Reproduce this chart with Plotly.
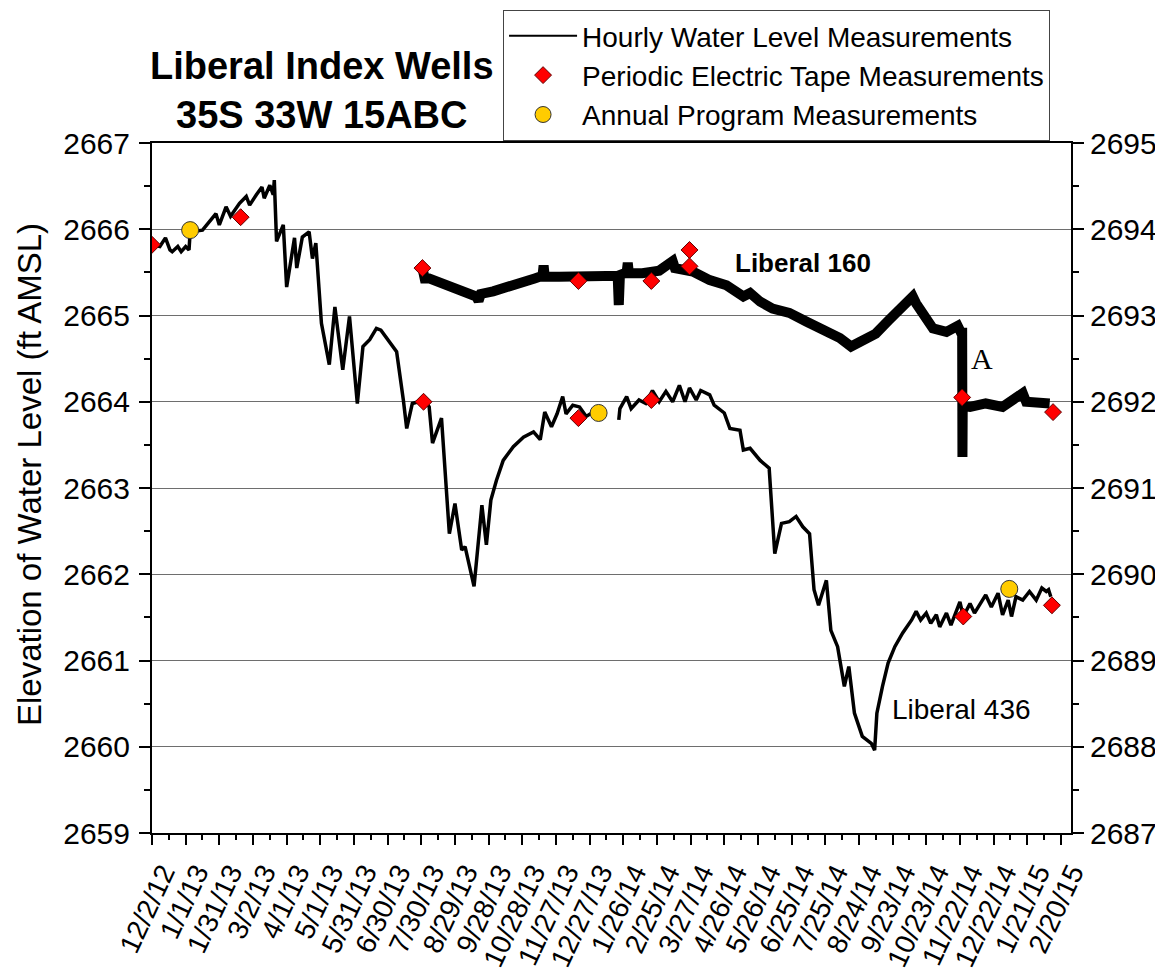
import plotly.graph_objects as go
import pandas as pd

# ---------------- data ----------------
TITLE_LINES = ["Liberal Index Wells", "35S 33W 15ABC"]
Y_TITLE = "Elevation of Water Level (ft AMSL)"
LEGEND_NAMES = ["Hourly Water Level Measurements",
                "Periodic Electric Tape Measurements",
                "Annual Program Measurements"]

TICK_DATES = ["2012-12-02", "2013-01-01", "2013-01-31", "2013-03-02", "2013-04-01",
              "2013-05-01", "2013-05-31", "2013-06-30", "2013-07-30", "2013-08-29",
              "2013-09-28", "2013-10-28", "2013-11-27", "2013-12-27", "2014-01-26",
              "2014-02-25", "2014-03-27", "2014-04-26", "2014-05-26", "2014-06-25",
              "2014-07-25", "2014-08-24", "2014-09-23", "2014-10-23", "2014-11-22",
              "2014-12-22", "2015-01-21", "2015-02-20"]
TICK_LABELS = ["12/2/12", "1/1/13", "1/31/13", "3/2/13", "4/1/13", "5/1/13", "5/31/13",
               "6/30/13", "7/30/13", "8/29/13", "9/28/13", "10/28/13", "11/27/13",
               "12/27/13", "1/26/14", "2/25/14", "3/27/14", "4/26/14", "5/26/14",
               "6/25/14", "7/25/14", "8/24/14", "9/23/14", "10/23/14", "11/22/14",
               "12/22/14", "1/21/15", "2/20/15"]

# Liberal 436 hourly record (left axis)
L436_DATES = ["2012-12-02", "2012-12-09", "2012-12-14", "2012-12-18", "2012-12-20",
              "2012-12-25", "2012-12-28", "2013-01-01", "2013-01-04", "2013-01-05",
              "2013-01-16", "2013-01-28", "2013-01-31", "2013-02-06", "2013-02-10",
              "2013-02-18", "2013-02-24", "2013-02-27", "2013-03-05", "2013-03-10",
              "2013-03-12", "2013-03-17", "2013-03-20", "2013-03-21", "2013-03-23",
              "2013-03-29", "2013-04-01", "2013-04-08", "2013-04-10", "2013-04-15",
              "2013-04-21", "2013-04-24", "2013-04-27", "2013-05-02", "2013-05-09",
              "2013-05-14", "2013-05-21", "2013-05-27", "2013-06-03", "2013-06-08",
              "2013-06-14", "2013-06-20", "2013-06-24", "2013-07-02", "2013-07-08",
              "2013-07-14", "2013-07-17", "2013-07-22", "2013-08-02", "2013-08-06",
              "2013-08-09", "2013-08-17", "2013-08-24", "2013-08-29", "2013-09-04",
              "2013-09-07", "2013-09-15", "2013-09-22", "2013-09-26", "2013-09-30",
              "2013-10-05", "2013-10-11", "2013-10-20", "2013-10-29", "2013-11-07",
              "2013-11-13", "2013-11-17", "2013-11-23", "2013-11-28", "2013-12-03",
              "2013-12-06", "2013-12-12", "2013-12-18", "2013-12-24", "2013-12-30",
              "2014-01-10",
              "2014-01-22", "2014-01-23", "2014-01-29", "2014-02-02", "2014-02-09",
              "2014-02-15", "2014-02-21", "2014-02-27", "2014-03-05", "2014-03-11",
              "2014-03-17", "2014-03-22", "2014-03-26", "2014-04-01", "2014-04-05",
              "2014-04-13", "2014-04-17", "2014-04-26", "2014-05-01", "2014-05-10",
              "2014-05-13", "2014-05-19", "2014-05-28", "2014-06-05", "2014-06-10",
              "2014-06-16", "2014-06-23", "2014-06-29", "2014-07-05", "2014-07-11",
              "2014-07-15", "2014-07-19", "2014-07-26", "2014-07-30", "2014-08-05",
              "2014-08-11", "2014-08-15", "2014-08-20", "2014-08-27", "2014-09-04",
              "2014-09-07", "2014-09-09", "2014-09-14", "2014-09-19", "2014-09-25",
              "2014-10-02", "2014-10-10", "2014-10-14", "2014-10-18", "2014-10-23",
              "2014-10-27", "2014-11-01", "2014-11-04", "2014-11-10", "2014-11-14",
              "2014-11-22", "2014-11-25", "2014-12-01", "2014-12-05", "2014-12-15",
              "2014-12-20", "2014-12-26", "2014-12-30", "2015-01-04", "2015-01-07",
              "2015-01-11", "2015-01-17", "2015-01-23", "2015-01-29", "2015-02-03",
              "2015-02-07", "2015-02-09", "2015-02-11"]
L436_LEVELS = [2665.82, 2665.80, 2665.90, 2665.76, 2665.74,
               2665.80, 2665.74, 2665.80, 2665.76, 2665.97,
               2665.99, 2666.18, 2666.05, 2666.26, 2666.15,
               2666.30, 2666.38, 2666.28, 2666.40, 2666.49,
               2666.36, 2666.51, 2666.40, 2666.57, 2665.86,
               2666.05, 2665.33, 2665.90, 2665.55, 2665.91,
               2665.97, 2665.66, 2665.84, 2664.91, 2664.43,
               2665.10, 2664.37, 2664.99, 2663.98, 2664.64,
               2664.72, 2664.85, 2664.83, 2664.68, 2664.58,
               2664.02, 2663.69, 2663.98, 2664.02, 2663.94,
               2663.52, 2663.81, 2662.47, 2662.82, 2662.28,
               2662.32, 2661.86, 2662.80, 2662.34, 2662.86,
               2663.09, 2663.32, 2663.48, 2663.59, 2663.65,
               2663.56, 2663.88, 2663.71, 2663.86, 2664.06,
               2663.86, 2663.96, 2663.94, 2663.83, 2663.88,
               None,
               2663.79, 2663.92, 2664.06, 2663.92, 2664.02,
               2663.98, 2664.13, 2664.00, 2664.12, 2664.00,
               2664.19, 2664.00, 2664.16, 2664.02, 2664.13,
               2664.08, 2663.96, 2663.87, 2663.69, 2663.67,
               2663.44, 2663.46, 2663.32, 2663.23, 2662.24,
               2662.59, 2662.61, 2662.67, 2662.55, 2662.47,
               2661.82, 2661.64, 2661.93, 2661.35, 2661.16,
               2660.70, 2660.93, 2660.39, 2660.12, 2660.04,
               2659.96, 2660.39, 2660.70, 2660.97, 2661.16,
               2661.32, 2661.47, 2661.57, 2661.47, 2661.55,
               2661.43, 2661.53, 2661.39, 2661.55, 2661.41,
               2661.68, 2661.51, 2661.66, 2661.55, 2661.76,
               2661.62, 2661.78, 2661.53, 2661.70, 2661.51,
               2661.74, 2661.70, 2661.80, 2661.70, 2661.84,
               2661.80, 2661.82, 2661.74]

# Liberal 160 hourly record (right axis)
L160_DATES = ["2013-07-31", "2013-08-02", "2013-08-06", "2013-08-18", "2013-09-02",
              "2013-09-17", "2013-09-19", "2013-09-21", "2013-10-02", "2013-10-17",
              "2013-10-31", "2013-11-08", "2013-11-15", "2013-11-16", "2013-11-17",
              "2013-11-30", "2013-12-15", "2013-12-30", "2014-01-14", "2014-01-21",
              "2014-01-22", "2014-01-23", "2014-01-29", "2014-01-30", "2014-01-31",
              "2014-02-12", "2014-02-27", "2014-03-11", "2014-03-13", "2014-03-29",
              "2014-04-13", "2014-04-28", "2014-05-13", "2014-05-19", "2014-05-28",
              "2014-06-08", "2014-06-23", "2014-07-08", "2014-07-23", "2014-08-07",
              "2014-08-17", "2014-08-27", "2014-09-08", "2014-09-20", "2014-10-02",
              "2014-10-11", "2014-10-14", "2014-10-20", "2014-10-29", "2014-11-10",
              "2014-11-20", "2014-11-23", "2014-11-24 00:00", "2014-11-24 06:00",
              "2014-11-24 12:00", "2014-12-01", "2014-12-15", "2014-12-30",
              "2015-01-17", "2015-01-20", "2015-02-01", "2015-02-10"]
L160_LEVELS = [2693.55, 2693.43, 2693.43, 2693.37, 2693.30,
               2693.22, 2693.17, 2693.25, 2693.28, 2693.33,
               2693.40, 2693.43, 2693.46, 2693.58, 2693.45,
               2693.45, 2693.45, 2693.47, 2693.45, 2693.46,
               2693.12, 2693.47, 2693.50, 2693.61, 2693.49,
               2693.49, 2693.52, 2693.63, 2693.55, 2693.51,
               2693.41, 2693.35, 2693.22, 2693.26, 2693.16,
               2693.08, 2693.03, 2692.93, 2692.83, 2692.74,
               2692.64, 2692.72, 2692.79, 2692.95, 2693.12,
               2693.22, 2693.14, 2693.04, 2692.85, 2692.81,
               2692.88, 2692.80, 2692.80, 2691.36,
               2691.95, 2691.94, 2691.98, 2691.94,
               2692.10, 2692.00, 2692.00, 2691.98]

# Periodic electric tape measurements
TAPE436_DATES = ["2012-12-02", "2013-02-19", "2013-08-01", "2013-12-17", "2014-02-20",
                 "2014-11-25", "2015-02-12"]
TAPE436_LEVELS = [2665.82, 2666.14, 2664.00, 2663.81, 2664.02, 2661.51, 2661.64]
TAPE160_DATES = ["2013-07-31", "2013-12-17", "2014-02-20", "2014-03-26", "2014-03-26",
                 "2014-11-24", "2015-02-13"]
TAPE160_LEVELS = [2693.55, 2693.40, 2693.40, 2693.76, 2693.57, 2692.05, 2691.88]

# Annual program measurements
ANNUAL_DATES = ["2013-01-05", "2014-01-04", "2015-01-05"]
ANNUAL_LEVELS = [2665.99, 2663.87, 2661.83]

# ---------------- figure ----------------
FONT = "Liberation Sans, Arial, sans-serif"
fig = go.Figure()

fig.add_trace(go.Scatter(x=L436_DATES, y=L436_LEVELS, mode="lines",
                         line=dict(color="black", width=3.5), connectgaps=False,
                         showlegend=False, yaxis="y"))
fig.add_trace(go.Scatter(x=L160_DATES, y=L160_LEVELS, mode="lines",
                         line=dict(color="black", width=10), showlegend=False,
                         yaxis="y2"))

diamond = dict(symbol="diamond", color="#FF0000", size=13,
               line=dict(color="#600000", width=1))
circle = dict(symbol="circle", color="#FFCC00", size=17,
              line=dict(color="#333333", width=1))

fig.add_trace(go.Scatter(x=TAPE436_DATES, y=TAPE436_LEVELS, mode="markers",
                         marker=diamond, showlegend=False, yaxis="y"))
fig.add_trace(go.Scatter(x=TAPE160_DATES, y=TAPE160_LEVELS, mode="markers",
                         marker=diamond, showlegend=False, yaxis="y2"))
fig.add_trace(go.Scatter(x=ANNUAL_DATES, y=ANNUAL_LEVELS, mode="markers",
                         marker=circle, showlegend=False, yaxis="y"))

# legend entries
fig.add_trace(go.Scatter(x=[None], y=[None], mode="lines", name=LEGEND_NAMES[0],
                         line=dict(color="black", width=2)))
fig.add_trace(go.Scatter(x=[None], y=[None], mode="markers", name=LEGEND_NAMES[1],
                         marker=diamond))
fig.add_trace(go.Scatter(x=[None], y=[None], mode="markers", name=LEGEND_NAMES[2],
                         marker=circle))

minor_vals = [d.strftime("%Y-%m-%d") for d in
              (pd.to_datetime(TICK_DATES) + pd.Timedelta(days=15))]

ytick_font = dict(family=FONT, size=30, color="black")
xtick_font = dict(family=FONT, size=28, color="black")

FIG_W, FIG_H = 1155, 964   # the page body adds an 8px margin around the figure

fig.update_layout(
    width=FIG_W, height=FIG_H, autosize=False,
    margin=dict(l=144, r=92, t=135, b=139, autoexpand=False),
    paper_bgcolor="white", plot_bgcolor="white",
    font=dict(family=FONT, color="black"),
    xaxis=dict(type="date", range=["2012-12-02", "2015-03-01"], automargin=False,
               tickmode="array", tickvals=TICK_DATES, ticktext=TICK_LABELS,
               tickangle=-65, tickfont=xtick_font, ticklabelstandoff=0,
               ticklabelshift=11,
               ticks="outside", ticklen=10, tickwidth=2, tickcolor="black",
               minor=dict(tickmode="array", tickvals=minor_vals, ticks="outside",
                          ticklen=5, tickwidth=2, tickcolor="black"),
               showline=True, linecolor="black", linewidth=2, mirror=True,
               showgrid=False, zeroline=False),
    yaxis=dict(range=[2659, 2667], tick0=2659, dtick=1, tickfont=ytick_font,
               automargin=False, ticklabelstandoff=3,
               ticks="outside", ticklen=11, tickwidth=2, tickcolor="black",
               minor=dict(dtick=0.5, ticks="outside", ticklen=6, tickwidth=2,
                          tickcolor="black"),
               showline=True, linecolor="black", linewidth=2,
               showgrid=True, gridcolor="#6e6e6e", gridwidth=1, zeroline=False),
    yaxis2=dict(range=[2687, 2695], tick0=2687, dtick=1, tickfont=ytick_font,
                automargin=False, overlaying="y", side="right",
                ticks="outside", ticklen=11, tickwidth=2, tickcolor="black",
                minor=dict(dtick=0.5, ticks="outside", ticklen=6, tickwidth=2,
                           tickcolor="black"),
                showline=True, linecolor="black", linewidth=2,
                showgrid=False, zeroline=False),
    legend=dict(xref="paper", x=0.382, yref="container", y=1 - 2 / FIG_H,
                xanchor="left", yanchor="top",
                bgcolor="white", bordercolor="#444444", borderwidth=1,
                font=dict(family=FONT, size=28, color="black"),
                itemwidth=68, tracegroupgap=0),
    showlegend=True,
)

annotations = [
    dict(text="<b>" + TITLE_LINES[0] + "</b><br><b>" + TITLE_LINES[1] + "</b>",
         xref="paper", yref="paper", x=0.1855, y=1.0768, xanchor="center",
         yanchor="middle", showarrow=False,
         font=dict(family=FONT, size=38, color="black")),
    dict(text=Y_TITLE, xref="paper", yref="paper", x=-0.134, y=0.52,
         xanchor="center", yanchor="middle", textangle=-90, showarrow=False,
         font=dict(family=FONT, size=33, color="black")),
    dict(text="<b>Liberal 160</b>", xref="x", yref="y2", x="2014-05-04", y=2693.61,
         xanchor="left", yanchor="middle", showarrow=False,
         font=dict(family=FONT, size=26, color="black")),
    dict(text="Liberal 436", xref="x", yref="y", x="2014-09-21", y=2660.43,
         xanchor="left", yanchor="middle", showarrow=False,
         font=dict(family=FONT, size=28, color="black")),
    dict(text="A", xref="x", yref="y", x="2014-12-12", y=2664.50,
         xanchor="center", yanchor="middle", showarrow=False,
         font=dict(family="Liberation Serif, Times New Roman, serif", size=30,
                   color="black")),
]
fig.update_layout(annotations=annotations)

fig.write_html("out.html")
